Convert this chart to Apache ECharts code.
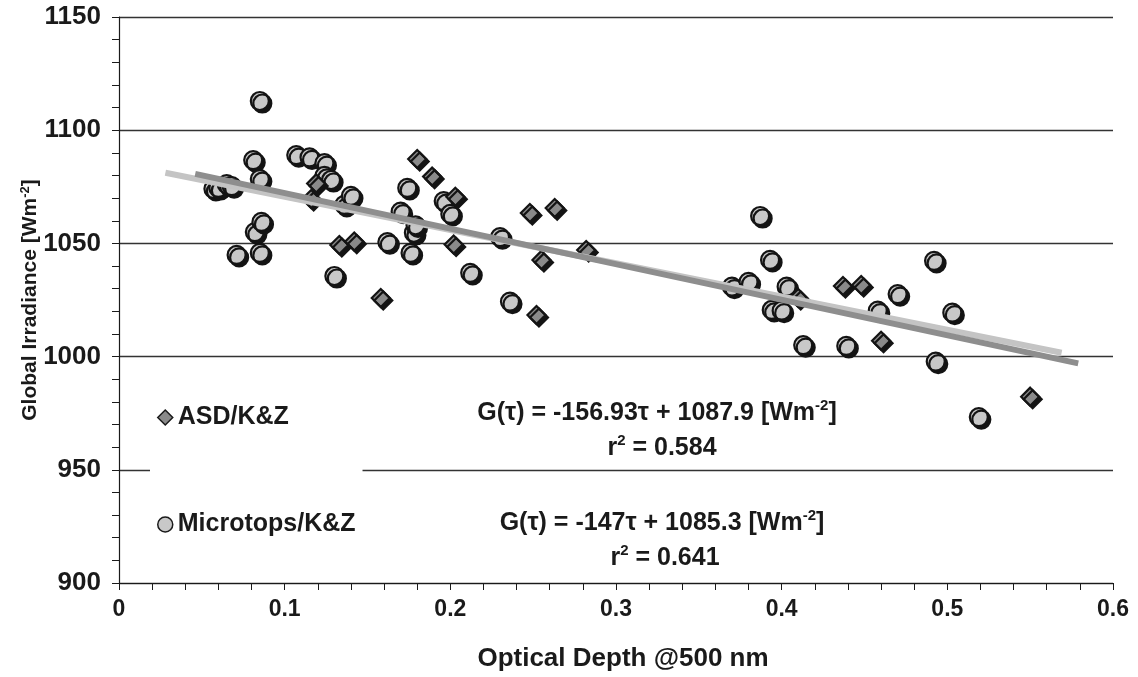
<!DOCTYPE html>
<html>
<head>
<meta charset="utf-8">
<script src="https://cdn.jsdelivr.net/npm/echarts@6/dist/echarts.min.js"></script>
<style>
html,body{margin:0;padding:0;background:#fff;}
#chart{width:1138px;height:677px;}
</style>
</head>
<body>
<div id="chart"></div>
<script>
// ---- data ----
const asdPoints = [
  [0.116,1069.6],[0.119,1076.5],[0.133,1049.3],[0.142,1050.8],[0.158,1025.9],
  [0.180,1087.3],[0.189,1079.5],[0.202,1049.5],[0.203,1070.6],[0.248,1063.4],
  [0.263,1065.6],[0.255,1042.7],[0.252,1018.4],[0.282,1047.1],[0.410,1025.9],
  [0.437,1031.2],[0.448,1031.6],[0.460,1007.0],[0.550,982.3]
];
const microtopsPoints = [
  [0.057,1074.1],[0.060,1074.5],[0.065,1076.2],[0.068,1075.3],[0.071,1044.9],
  [0.081,1086.8],[0.082,1055.0],[0.085,1112.9],[0.085,1078.4],[0.085,1045.8],
  [0.086,1059.5],[0.107,1089.0],[0.115,1088.0],[0.124,1085.5],[0.124,1079.8],
  [0.128,1078.0],[0.130,1035.6],[0.136,1067.0],[0.140,1071.0],[0.162,1050.6],
  [0.170,1064.0],[0.174,1074.5],[0.176,1045.8],[0.178,1054.7],[0.179,1058.0],
  [0.196,1068.7],[0.200,1063.0],[0.212,1037.0],[0.230,1052.8],[0.236,1024.3],
  [0.370,1030.9],[0.380,1033.0],[0.387,1062.1],[0.393,1042.7],[0.394,1020.6],
  [0.400,1020.3],[0.403,1030.9],[0.413,1005.1],[0.439,1004.7],[0.458,1020.3],
  [0.470,1027.6],[0.492,1042.3],[0.493,997.8],[0.503,1019.4],[0.519,973.3]
];
const asdFit = [[0.046,1080.7],[0.579,997.0]];
const microtopsFit = [[0.028,1081.2],[0.569,1001.7]];
const seriesNames = ['ASD/K&Z','Microtops/K&Z'];
const eqASD = ['G(τ) = -156.93τ + 1087.9 [Wm', '-2', ']'];
const r2ASD = ['r', '2', ' = 0.584'];
const eqMic = ['G(τ) = -147τ + 1085.3 [Wm', '-2', ']'];
const r2Mic = ['r', '2', ' = 0.641'];
const xTitle = 'Optical Depth @500 nm';
const yTitle = ['Global Irradiance [Wm', '-2', ']'];

const FONT = '"Liberation Sans", Arial, Helvetica, sans-serif';
const INK = '#1a1a1a';
const chart = echarts.init(document.getElementById('chart'), null, {renderer:'canvas'});

function supText(parts){ return parts[0] + '{sup|' + parts[1] + '}' + parts[2]; }

const EQ_SIZE = 25;
function eqText(parts, x, y){
  return {
    type:'text', x: x, y: y, z: 10,
    style:{
      text: supText(parts), fill: INK,
      fontWeight:'bold', fontSize:EQ_SIZE, fontFamily: FONT,
      align:'center', verticalAlign:'middle',
      rich: {sup:{fontSize:15, fontWeight:'bold', fontFamily:FONT, fill:INK, color:INK, verticalAlign:'top', lineHeight:EQ_SIZE+4}}
    }
  };
}

const option = {
  backgroundColor:'#fff',
  animation:false,
  grid:{left:119, right:25, top:17, bottom:94, containLabel:false},
  xAxis:{
    type:'value', min:0, max:0.6, interval:0.1,
    axisLine:{show:true, lineStyle:{color:INK, width:1.2}},
    axisTick:{show:true, inside:false, length:7, lineStyle:{color:INK, width:1}},
    minorTick:{show:true, splitNumber:5, length:7, lineStyle:{color:INK, width:1}},
    splitLine:{show:false},
    axisLabel:{color:INK, fontSize:23, fontWeight:'bold', fontFamily:FONT, margin:15,
      formatter: v => v === 0 ? '0' : v.toFixed(1)},
    name: xTitle, nameLocation:'middle', nameGap:63, nameMoveOverlap:false,
    nameTextStyle:{color:INK, fontSize:26, fontWeight:'bold', fontFamily:FONT, padding:[0,0,0,14]}
  },
  yAxis:{
    type:'value', min:900, max:1150, interval:50,
    axisLine:{show:true, lineStyle:{color:INK, width:1.2}},
    axisTick:{show:true, inside:false, length:7, lineStyle:{color:INK, width:1}},
    minorTick:{show:true, splitNumber:5, length:7, lineStyle:{color:INK, width:1}},
    splitLine:{show:true, lineStyle:{color:'#333', width:1.3}},
    axisLabel:{color:INK, fontSize:26, fontWeight:'bold', fontFamily:FONT, margin:18,
      formatter: v => String(v)},
    name: supText(yTitle), nameLocation:'middle', nameGap:77, nameRotate:90, nameMoveOverlap:false,
    nameTextStyle:{color:INK, fontSize:21, fontWeight:'bold', fontFamily:FONT,
      rich: {sup:{fontSize:13, fontWeight:'bold', fontFamily:FONT, color:INK, verticalAlign:'top', lineHeight:23}}}
  },
  legend:{
    orient:'vertical', left:150, top:397,
    backgroundColor:'#fff', padding:[8,7,8,7],
    itemWidth:15, itemHeight:15, itemGap:82,
    textStyle:{color:INK, fontSize:25, fontWeight:'bold', fontFamily:FONT},
    data:[
      {name:seriesNames[0], icon:'diamond', itemStyle:{color:'#8a8a8a', borderColor:INK, borderWidth:1.5, shadowBlur:0, shadowColor:'transparent', shadowOffsetX:0, shadowOffsetY:0}},
      {name:seriesNames[1], icon:'circle', itemStyle:{color:'#c8c8c8', borderColor:INK, borderWidth:1.5, shadowBlur:0, shadowColor:'transparent', shadowOffsetX:0, shadowOffsetY:0}}
    ]
  },
  series:[
    {
      name:seriesNames[1], type:'scatter', data:microtopsPoints, symbol:'circle', symbolSize:18, z:2,
      itemStyle:{color:'#c8c8c8', borderColor:'#141414', borderWidth:2.2, opacity:1,
        shadowColor:'#141414', shadowBlur:0, shadowOffsetX:2.5, shadowOffsetY:2.5}
    },
    {
      name:seriesNames[0], type:'scatter', data:asdPoints, symbol:'diamond', symbolSize:18, z:3,
      itemStyle:{color:'#8a8a8a', borderColor:'#141414', borderWidth:2.2, opacity:1,
        shadowColor:'#141414', shadowBlur:0, shadowOffsetX:2.5, shadowOffsetY:2.5}
    },
    {
      name:'Microtops fit', type:'line', data:microtopsFit, symbol:'none', z:4, silent:true,
      lineStyle:{color:'#c4c4c4', width:6}
    },
    {
      name:'ASD fit', type:'line', data:asdFit, symbol:'none', z:5, silent:true,
      lineStyle:{color:'#8e8e8e', width:6}
    }
  ],
  graphic:[
    eqText(eqASD, 657, 413),
    eqText(r2ASD, 662, 448),
    eqText(eqMic, 662, 523),
    eqText(r2Mic, 665, 558)
  ]
};
chart.setOption(option);
</script>
</body>
</html>
